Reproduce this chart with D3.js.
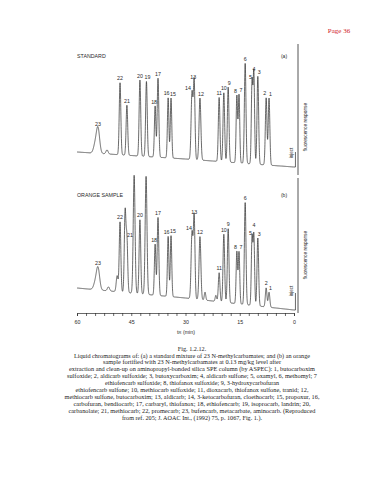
<!DOCTYPE html>
<html>
<head>
<meta charset="utf-8">
<script src="https://cdnjs.cloudflare.com/ajax/libs/d3/7.8.5/d3.min.js"></script>
<style>
body{margin:0;background:#fff;}
svg{display:block;}
</style>
</head>
<body>
<svg id="page" width="384" height="480"></svg>
<script>
// peaks of the 23 carbamates: number, retention time (min), height (response units)
var peakNo       = [1, 2, 3, 4, 5, 6, 7, 8, 9, 10, 11, 12, 13, 14, 15, 16, 17, 18, 19, 20, 21, 22, 23];
var peakTime     = [6.9, 7.7, 10.0, 11.1, 11.6, 13.5, 15.2, 15.8, 18.2, 19.4, 20.7, 26.0, 27.6, 28.2, 34.0, 34.8, 37.6, 38.4, 40.8, 42.6, 46.2, 48.1, 54.2];
var peakWidth    = [0.22, 0.22, 0.22, 0.2, 0.2, 0.22, 0.2, 0.2, 0.22, 0.22, 0.22, 0.25, 0.22, 0.25, 0.2, 0.2, 0.22, 0.2, 0.22, 0.22, 0.22, 0.22, 0.45];
var heightStd    = [67, 67, 88, 91, 82, 100, 68, 67, 75, 69, 64, 62, 78, 67, 60, 60, 79, 51, 75, 76, 50, 72, 25];
var heightOrange = [15, 19, 68, 70, 68, 102, 52, 52, 74, 68, 29, 63, 82, 66, 61, 60, 78, 51, 0, 74, 53, 70, 22];

// unlabelled peaks (shoulders, matrix peaks)
var extraTimeStd      = [55.0, 51.7];
var extraHeightStd    = [8, 4];
var extraWidthStd     = [0.45, 0.3];
var extraTimeOrange   = [55.0, 51.3, 48.9, 46.7, 44.2, 40.9, 24.6, 21.6];
var extraHeightOrange = [6, 4, 16, 80, 118, 118, 8, 6];
var extraWidthOrange  = [0.45, 0.3, 0.25, 0.22, 0.25, 0.25, 0.2, 0.2];

// baseline drift read at three points
var baseTimes  = [60, 30, 0];
var baseStd    = [0, -7, -15];
var baseOrange = [0, -10, -22];
var injectStd = 15, injectOrange = 17;

var tickTimes = [0, 2.5, 5, 7.5, 10, 12.5, 15, 17.5, 20, 22.5, 25, 27.5, 30, 32.5, 35, 37.5, 40, 42.5, 45, 47.5, 50, 52.5, 55, 57.5, 60];
var tickLabels = [0, 15, 30, 45, 60];

var captionLines = [
  "Liquid chromatograms of: (a) a standard mixture of 23 N-methylcarbamates; and (b) an orange",
  "sample fortified with 23 N-methylcarbamates at 0.13 mg/kg level after",
  "extraction and clean-up on aminopropyl-bonded silica SPE column (by ASPEC): 1, butocarboxim",
  "sulfoxide; 2, aldicarb sulfoxide; 3, butoxycarboxim; 4, aldicarb sulfone; 5, oxamyl, 6, methomyl; 7",
  "ethiofencarb sulfoxide; 8, thiofanox sulfoxide; 9, 3-hydroxycarbofuran",
  "ethiofencarb sulfone; 10, methiocarb sulfoxide; 11, dioxacarb, thiofanox sulfone, tranid; 12,",
  "methiocarb sulfone, butocarboxim; 13, aldicarb; 14, 3-ketocarbofuran, cloethocarb; 15, propoxur, 16,",
  "carbofuran, bendiocarb; 17, carbaryl, thiofanox; 18, ethiofencarb; 19, isoprocarb, landrin; 20,",
  "carbanolate; 21, methiocarb; 22, promecarb; 23, bufencarb, metacarbate, aminocarb. (Reproduced",
  "from ref. 205; J. AOAC Int., (1992) 75, p. 1067, Fig. 1.)."
];
var captionWidths = [236, 178, 246, 250, 174, 233, 255, 237, 247, 140];

var svg = d3.select("#page");
var sans = "'Liberation Sans', Arial, sans-serif";
var serif = "'Liberation Serif', 'Times New Roman', serif";
var ink = "#2a2a2a";

var x = d3.scaleLinear().domain([60, 0]).range([77, 294]);

svg.append("text").attr("x", 339).attr("y", 33).attr("text-anchor", "middle")
  .attr("font-family", serif).attr("font-size", "7px").attr("fill", "#d0202a").text("Page 36");

//一つのクロマトグラムを描く
function drawPanel(opt){
  var y = d3.scaleLinear().domain([0, 100]).range([opt.base, opt.base - 100]);
  var drift = d3.scaleLinear().domain(baseTimes).range(opt.drift);

  var peaks = [];
  for(var i = 0; i < peakNo.length; i++){
    peaks.push({no: peakNo[i], t: peakTime[i], h: opt.heights[i], w: peakWidth[i]});
  }
  var extras = [];
  for(var j = 0; j < opt.extraT.length; j++){
    extras.push({t: opt.extraT[j], h: opt.extraH[j], w: opt.extraW[j]});
  }
  var all = peaks.concat(extras);

  function signal(t){
    var s = drift(t);
    all.forEach(function(p){
      if(p.h > 0){
        var z = (t - p.t) / p.w;
        s += p.h * Math.exp(-0.5 * z * z);
      }
    });
    return s;
  }

  var trace = d3.range(0, 60.001, 0.02).map(function(t){ return [t, signal(t)]; });
  var line = d3.line().x(function(d){ return x(d[0]); }).y(function(d){ return y(d[1]); });

  svg.append("path").attr("d", line(trace))
    .attr("fill", "none").attr("stroke", ink).attr("stroke-width", 0.7).attr("stroke-linejoin", "round");

  // inject mark
  svg.append("path")
    .attr("d", line([[0, drift(0)], [-0.4, drift(0)], [-0.4, drift(0) + opt.inject]]))
    .attr("fill", "none").attr("stroke", ink).attr("stroke-width", 0.7);
  svg.append("text")
    .attr("transform", "translate(" + (x(0) - 1) + "," + opt.injectY + ") rotate(-90)")
    .attr("text-anchor", "middle").attr("font-family", sans).attr("font-size", "4.5px")
    .attr("fill", ink).text("inject");

  svg.selectAll(null).data(peaks.filter(function(p){ return p.h > 0; })).enter()
    .append("text")
    .attr("x", function(d){ return x(d.t) + (opt.nudge[d.no] ? opt.nudge[d.no][0] : 0); })
    .attr("y", function(d){ return y(drift(d.t) + d.h) - 2.5 + (opt.nudge[d.no] ? opt.nudge[d.no][1] : 0); })
    .attr("text-anchor", "middle").attr("font-family", sans).attr("font-size", "5.3px")
    .attr("fill", ink).text(function(d){ return d.no; });

  svg.append("text").attr("x", 77).attr("y", opt.titleY)
    .attr("font-family", sans).attr("font-size", "5.3px").attr("fill", ink).text(opt.title);
  svg.append("text").attr("x", 284).attr("y", opt.tagY).attr("text-anchor", "middle")
    .attr("font-family", sans).attr("font-size", "5px").attr("fill", ink).text(opt.tag);

  svg.append("line").attr("x1", 298).attr("x2", 298).attr("y1", opt.axisTop).attr("y2", opt.axisBottom)
    .attr("stroke", ink).attr("stroke-width", 0.8);
  svg.append("text")
    .attr("transform", "translate(307," + opt.respY + ") rotate(-90)")
    .attr("text-anchor", "middle").attr("font-family", sans).attr("font-size", "4.8px")
    .attr("fill", ink).text("fluorescence response");
}

drawPanel({
  base: 152, drift: baseStd, heights: heightStd,
  extraT: extraTimeStd, extraH: extraHeightStd, extraW: extraWidthStd,
  inject: injectStd, injectY: 153,
  title: "STANDARD", titleY: 58, tag: "(a)", tagY: 58,
  axisTop: 44, axisBottom: 175, respY: 127,
  nudge: {1: [1.5, 0], 2: [-1.5, 0], 3: [1.5, 0], 5: [-1.5, 0], 7: [2, 0], 8: [-1.5, 0], 9: [1, 0],
          12: [1, 0], 13: [-1, 0], 14: [-4, 0], 15: [2, 0], 16: [-1.5, 0], 18: [-1, 0], 19: [1, 0]}
});

drawPanel({
  base: 288, drift: baseOrange, heights: heightOrange,
  extraT: extraTimeOrange, extraH: extraHeightOrange, extraW: extraWidthOrange,
  inject: injectOrange, injectY: 291,
  title: "ORANGE SAMPLE", titleY: 197, tag: "(b)", tagY: 197,
  axisTop: 178, axisBottom: 313, respY: 255,
  nudge: {1: [1.5, 0], 3: [1.5, 0], 4: [0, -6], 5: [-1.5, 0], 7: [2, 0], 8: [-1.5, 0],
          14: [-3, 0], 15: [2, 0], 16: [-1.5, 0], 18: [-1, 0], 21: [3, 0]}
});

// time axis
var axis = d3.axisBottom(x).tickValues(tickTimes).tickSize(3)
  .tickFormat(function(d){ return tickLabels.indexOf(d) !== -1 ? d : ""; });
var gAxis = svg.append("g").attr("transform", "translate(0,313)").call(axis);
gAxis.selectAll("path, line").attr("stroke", ink).attr("stroke-width", 0.7);
gAxis.selectAll("text").attr("font-family", sans).attr("font-size", "5.3px").attr("fill", ink).attr("dy", "0.9em");

var xLabel = svg.append("text").attr("x", 186).attr("y", 334).attr("text-anchor", "middle")
  .attr("font-family", sans).attr("font-size", "5.3px").attr("fill", ink);
xLabel.append("tspan").text("t");
xLabel.append("tspan").attr("font-size", "4px").text("R");
xLabel.append("tspan").text(" (min)");

// caption
svg.append("text").attr("x", 192).attr("y", 351).attr("text-anchor", "middle")
  .attr("font-family", serif).attr("font-size", "6.2px").attr("fill", "#222").text("Fig. 1.2.12.");
svg.selectAll(null).data(captionLines).enter().append("text")
  .attr("x", 192).attr("y", function(d, i){ return 357.5 + i * 6.95; })
  .attr("text-anchor", "middle").attr("font-family", serif).attr("font-size", "6.2px")
  .attr("fill", "#222")
  .attr("textLength", function(d, i){ return captionWidths[i]; })
  .attr("lengthAdjust", "spacingAndGlyphs")
  .text(function(d){ return d; });
</script>
</body>
</html>
